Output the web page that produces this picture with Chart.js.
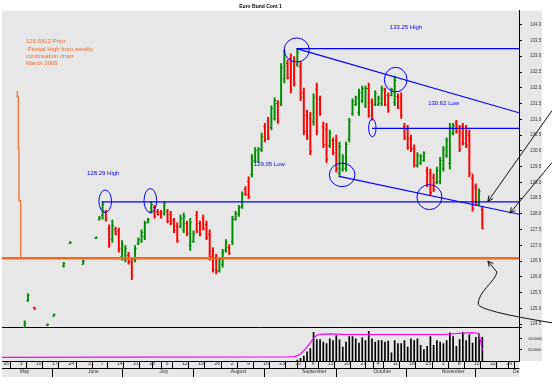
<!DOCTYPE html>
<html>
<head>
<meta charset="utf-8">
<script src="https://cdn.jsdelivr.net/npm/chart.js@4.4.1/dist/chart.umd.min.js"></script>
<style>
  html, body { margin: 0; padding: 0; background: #fff; }
  #wrap { width: 552px; height: 387px; }
</style>
</head>
<body>
<div id="wrap"><canvas id="chart" width="552" height="387"></canvas></div>
<script>
const FONT = "'Liberation Sans', Arial, sans-serif";
const GREEN = '#008c00';
const RED = '#ff0000';
const BLUE = '#0000ff';
const ORANGE = '#f26b21';
const GREY_BG = '#e7e7e7';

// trading day index, 0 = Monday 26 April 2010
const barDays = [7, 8, 10, 14, 16, 19, 21, 25, 29,
  30, 31, 32, 33, 34, 35, 36, 37, 38, 39, 40, 41, 42, 43, 44, 45, 46, 47, 48, 49,
  50, 51, 52, 53, 54, 55, 56, 57, 58, 59, 60, 61, 62, 63, 64, 65, 66, 67, 68, 69,
  70, 71, 72, 73, 74, 75, 76, 77, 78, 79, 80, 81, 82, 83, 84, 85, 86, 87, 88, 89,
  90, 91, 92, 93, 94, 95, 96, 97, 98, 99, 100, 101, 102, 103, 104, 105, 106, 107, 108, 109,
  110, 111, 112, 113, 114, 115, 116, 117, 118, 119, 120, 121, 122, 123, 124, 125, 126, 127, 128, 129,
  130, 131, 132, 133, 134, 135, 136, 137, 138, 139, 140, 141, 142, 143, 144, 145, 146, 147, 148];

const opens = [124.42, 125.25, 125.03, 124.46, 124.77, 126.33, 127.06, 126.42, 127.22,
  127.83, 127.95, 128.05, 127.55, 127.20, 127.52, 127.45, 126.65, 126.58, 126.70, 126.50, 126.55, 127.06, 127.15, 127.30, 127.74, 128.08, 128.20, 128.10, 128.06,
  128.02, 128.08, 128.00, 127.80, 127.62, 127.62, 127.50, 127.70, 127.00, 127.15, 127.95, 127.70, 127.88, 127.68, 127.35, 126.82, 126.62, 126.22, 126.40, 126.84,
  126.96, 127.15, 127.84, 127.98, 128.25, 128.80, 129.05, 129.25, 129.70, 129.68, 130.05, 130.78, 130.95, 130.76, 131.05, 131.52, 131.55, 132.30, 132.80, 132.95,
  132.85, 132.75, 132.70, 131.85, 131.15, 131.05, 130.95, 131.95, 131.65, 130.80, 130.70, 130.18, 130.35, 130.35, 129.30, 129.42, 129.45, 130.38, 131.20, 131.48,
  131.22, 131.60, 131.45, 132.00, 131.55, 131.50, 131.48, 131.52, 131.92, 131.76, 131.78, 131.55, 131.74, 131.72, 130.80, 130.70, 130.42, 130.10, 129.55, 129.62,
  129.70, 129.40, 129.30, 129.18, 129.02, 129.05, 129.45, 129.86, 129.60, 130.55, 130.90, 130.72, 130.78, 130.72, 130.50, 129.15, 128.88, 128.32, 128.15];

const highs = [124.60, 125.47, 125.04, 124.51, 124.82, 126.46, 127.12, 126.53, 127.27,
  127.92, 128.39, 128.11, 127.65, 127.80, 127.58, 127.55, 127.15, 126.99, 126.78, 126.62, 126.99, 127.24, 127.49, 127.77, 127.86, 128.39, 128.27, 128.14, 128.11,
  128.39, 128.14, 128.08, 127.86, 127.71, 127.96, 128.02, 127.77, 127.86, 127.46, 128.08, 127.77, 127.96, 127.77, 127.49, 126.93, 126.71, 126.62, 126.87, 127.18,
  127.02, 127.92, 128.08, 128.27, 128.70, 128.86, 129.17, 129.88, 130.10, 130.10, 130.56, 130.87, 131.06, 131.43, 131.68, 131.59, 132.77, 133.20, 132.89, 133.08,
  132.99, 133.25, 132.83, 131.99, 131.28, 131.22, 131.81, 132.15, 131.74, 130.91, 130.87, 130.66, 130.41, 130.50, 130.28, 129.88, 130.28, 131.03, 131.65, 131.74,
  131.96, 132.05, 132.05, 132.15, 131.65, 131.90, 131.74, 132.05, 131.99, 131.84, 131.99, 132.37, 131.81, 131.84, 130.87, 130.81, 130.50, 130.19, 129.94, 129.88,
  129.97, 129.48, 129.42, 129.26, 129.48, 129.79, 130.13, 130.41, 130.87, 130.87, 130.97, 130.81, 130.87, 130.81, 130.66, 129.26, 128.95, 128.79, 128.24];

const lows = [124.39, 125.22, 124.97, 124.45, 124.76, 126.31, 127.05, 126.40, 127.21,
  127.80, 127.83, 127.77, 126.93, 127.09, 127.33, 126.78, 126.53, 126.47, 126.40, 125.91, 126.47, 127.02, 127.09, 127.18, 127.71, 128.02, 127.86, 127.96, 127.86,
  127.96, 127.71, 127.65, 127.40, 127.09, 127.55, 127.40, 127.30, 126.84, 127.09, 127.40, 127.30, 127.49, 127.18, 126.53, 126.15, 126.09, 126.15, 126.31, 126.78,
  126.71, 127.02, 127.80, 127.92, 128.17, 128.58, 128.48, 129.17, 129.63, 129.63, 129.97, 130.28, 130.35, 130.66, 130.97, 130.87, 131.43, 132.15, 132.27, 131.84,
  132.05, 132.68, 131.59, 130.50, 130.35, 129.88, 130.81, 130.50, 131.12, 130.10, 129.63, 130.10, 129.88, 129.32, 129.17, 129.35, 129.35, 130.28, 131.12, 131.43,
  131.12, 131.53, 131.37, 131.06, 130.97, 131.43, 131.43, 131.43, 131.43, 131.22, 131.74, 131.43, 131.34, 131.03, 130.35, 130.04, 129.97, 129.48, 129.48, 129.57,
  129.66, 128.86, 128.58, 128.70, 128.95, 128.95, 129.35, 129.79, 129.42, 130.50, 130.56, 129.97, 130.19, 130.10, 129.17, 128.08, 128.27, 128.27, 127.52];

const closes = [124.55, 125.42, 124.98, 124.50, 124.81, 126.44, 127.11, 126.51, 127.26,
  127.90, 128.30, 127.82, 127.05, 127.65, 127.38, 126.90, 127.05, 126.90, 126.48, 126.05, 126.90, 127.20, 127.42, 127.70, 127.83, 128.30, 127.92, 127.99, 127.90,
  128.33, 127.78, 127.72, 127.47, 127.18, 127.88, 127.92, 127.38, 127.75, 127.40, 127.50, 127.38, 127.55, 127.25, 126.65, 126.25, 126.18, 126.55, 126.80, 127.12,
  126.76, 127.82, 128.02, 128.20, 128.62, 128.62, 128.58, 129.80, 130.02, 130.05, 130.48, 130.36, 130.42, 131.35, 131.60, 130.95, 132.65, 133.05, 132.35, 131.95,
  132.15, 133.15, 131.70, 130.62, 130.45, 130.00, 131.70, 130.62, 131.20, 130.20, 129.75, 130.58, 129.95, 129.45, 130.15, 129.80, 130.20, 130.95, 131.58, 131.70,
  131.88, 131.98, 131.98, 131.15, 131.05, 131.84, 131.68, 131.98, 131.50, 131.30, 131.95, 132.25, 131.40, 131.12, 130.42, 130.12, 130.05, 129.56, 129.88, 129.82,
  129.92, 128.95, 128.68, 128.78, 129.40, 129.70, 130.05, 130.34, 130.75, 130.82, 130.62, 130.06, 130.26, 130.18, 129.30, 128.18, 128.33, 128.72, 127.55];

const volDays = [91, 92, 93, 94, 95, 96, 97, 98, 99, 100, 101, 102, 103, 104, 105, 106, 107, 108, 109,
  110, 111, 112, 113, 114, 115, 116, 117, 118, 119, 120, 121, 122, 123, 124, 125, 126, 127, 128, 129,
  130, 131, 132, 133, 134, 135, 136, 137, 138, 139, 140, 141, 142, 143, 144, 145, 146, 147, 148];
const volumes = [40000, 120000, 220000, 410000, 560000, 1290000, 970000, 970000, 850000, 780000, 1000000, 925000, 1150000, 955000, 630000, 850000, 1100000, 1100000, 1000000,
  805000, 1045000, 925000, 1335000, 1000000, 850000, 925000, 925000, 850000, 895000, 365000, 925000, 780000, 780000, 925000, 630000, 1000000, 925000, 1000000, 705000,
  515000, 660000, 1100000, 705000, 925000, 850000, 780000, 925000, 1265000, 1100000, 660000, 970000, 1290000, 925000, 1190000, 805000, 1070000, 1220000, 1070000];

const oiDays = [0, 88, 90, 91, 92, 93, 94, 95, 96, 97, 98, 101, 105, 135, 138, 141, 145, 147, 148];
const openInterest = [165000, 190000, 200000, 240000, 330000, 470000, 640000, 830000, 1030000, 1160000, 1200000, 1220000, 1200000, 1195000, 1210000, 1250000, 1280000, 1240000, 480000];

const priceTickValues = [124.5, 125, 125.5, 126, 126.5, 127, 127.5, 128, 128.5, 129, 129.5, 130, 130.5, 131, 131.5, 132, 132.5, 133, 133.5, 134];
const volumeTickValues = [500000, 1000000, 1500000];

const weekTicks = [0, 5, 10, 15, 20, 26, 30, 35, 40, 45, 50, 55, 60, 65, 70, 75, 80, 85, 90, 95, 100, 105, 110, 115, 120, 125, 130, 135, 140, 145, 150, 155];
const weekLabels = ['26', '3', '10', '17', '24', '31', '7', '14', '21', '28', '5', '12', '19', '26', '2', '9', '16', '23', '30', '6', '13', '20', '27', '4', '11', '18', '25', '1', '8', '15', '22', '29'];
const monthTicks = [5, 26, 48, 70, 92, 114, 135, 157];
const monthLabels = ['May', 'June', 'July', 'August', 'September', 'October', 'November', 'December'];

// hand drawn study lines: [day, price] pairs
const orangeLevel = 126.5912;
const priorContract = [[4.71, 131.90], [4.71, 131.71], [5.02, 131.71], [5.02, 130.04], [5.24, 130.04], [5.24, 128.42], [5.76, 128.42], [5.76, 126.59]];
const blueLines = [
  [[90.8, 133.244], [159.3, 133.244]],
  [[90.8, 133.244], [159.3, 131.207]],
  [[114.0, 130.71], [159.3, 130.71]],
  [[30.8, 128.38], [159.3, 128.38]],
  [[103.9, 129.188], [159.3, 127.986]]
];

const circles = [
  { d: 90.8, p: 133.20, rx: 12.5, ry: 12 },
  { d: 121.3, p: 132.26, rx: 11.3, ry: 12.3 },
  { d: 114.1, p: 130.725, rx: 3.7, ry: 8.8 },
  { d: 104.8, p: 129.235, rx: 12.8, ry: 11.8 },
  { d: 131.7, p: 128.53, rx: 12.5, ry: 12.5 },
  { d: 31.8, p: 128.40, rx: 6.3, ry: 11.2 },
  { d: 45.7, p: 128.42, rx: 6.3, ry: 12 }
];

const arrows = [
  { from: [169.5, 131.28], to: [149.7, 128.39] },
  { from: [169.5, 129.63], to: [156.5, 128.02] }
];
const curvedArrow = [[169.5, 124.54], [147.3, 124.91], [146.7, 125.13], [146.7, 125.53], [151.9, 125.84], [152.5, 126.15], [149.7, 126.50]];

const notes = [
  { text: '133.25 High', d: 119.5, p: 133.92, color: BLUE },
  { text: '130.62 Low', d: 131.3, p: 131.51, color: BLUE },
  { text: '129.05 Low', d: 77.6, p: 129.57, color: BLUE },
  { text: '128.29 High', d: 26.2, p: 129.29, color: BLUE },
  { text: '126.5912 Prior', d: 7.4, p: 133.47, color: ORANGE },
  { text: ' Pivotal High from weekly', d: 7.4, p: 133.23, color: ORANGE },
  { text: 'continuation chart', d: 7.4, p: 132.99, color: ORANGE },
  { text: 'March 2009', d: 7.4, p: 132.78, color: ORANGE }
];

const toXY = (pairs) => pairs.map(([x, y]) => ({ x, y }));

function arrowHead(ctx, x0, y0, x1, y1, size) {
  const a = Math.atan2(y1 - y0, x1 - x0);
  ctx.beginPath();
  ctx.moveTo(x1 - size * Math.cos(a - 0.45), y1 - size * Math.sin(a - 0.45));
  ctx.lineTo(x1, y1);
  ctx.lineTo(x1 - size * Math.cos(a + 0.45), y1 - size * Math.sin(a + 0.45));
  ctx.stroke();
}

const annotationPlugin = {
  id: 'annotations',
  beforeDraw(chart) {
    const { ctx, chartArea: a, scales } = chart;
    ctx.save();
    ctx.fillStyle = GREY_BG;
    ctx.fillRect(a.left, a.top, scales.y.right - a.left, a.bottom - a.top);
    ctx.fillRect(a.left, a.bottom, a.right - a.left, scales.x2.bottom - a.bottom);
    ctx.restore();
  },
  afterDatasetsDraw(chart) {
    const { ctx, scales } = chart;
    const X = (d) => scales.x.getPixelForValue(d);
    const Y = (p) => scales.y.getPixelForValue(p);
    ctx.save();

    // open / close ticks
    ctx.lineWidth = 1;
    barDays.forEach((d, i) => {
      const x = X(d);
      ctx.strokeStyle = closes[i] >= opens[i] ? GREEN : RED;
      ctx.beginPath();
      const yo = Math.round(Y(opens[i])) + 0.5;
      const yc = Math.round(Y(closes[i])) + 0.5;
      ctx.moveTo(x - 1.6, yo); ctx.lineTo(x, yo);
      ctx.moveTo(x, yc); ctx.lineTo(x + 1.6, yc);
      ctx.stroke();
    });

    // circles around pivots
    ctx.strokeStyle = BLUE;
    ctx.lineWidth = 1;
    circles.forEach(c => {
      ctx.beginPath();
      ctx.ellipse(X(c.d), Y(c.p), c.rx, c.ry, 0, 0, Math.PI * 2);
      ctx.stroke();
    });

    // black pointer arrows
    ctx.strokeStyle = '#111';
    ctx.lineWidth = 1;
    arrows.forEach(a => {
      const x0 = X(a.from[0]), y0 = Y(a.from[1]), x1 = X(a.to[0]), y1 = Y(a.to[1]);
      ctx.beginPath(); ctx.moveTo(x0, y0); ctx.lineTo(x1, y1); ctx.stroke();
      arrowHead(ctx, x0, y0, x1, y1, 6);
    });
    const cp = curvedArrow.map(([d, p]) => [X(d), Y(p)]);
    ctx.beginPath();
    ctx.moveTo(cp[0][0], cp[0][1]);
    ctx.quadraticCurveTo(cp[1][0], cp[1][1], cp[2][0], cp[2][1]);
    ctx.bezierCurveTo(cp[3][0], cp[3][1], cp[4][0], cp[4][1], cp[5][0], cp[5][1]);
    ctx.lineTo(cp[6][0], cp[6][1]);
    ctx.stroke();
    arrowHead(ctx, cp[5][0], cp[5][1], cp[6][0], cp[6][1], 6);

    // text notes
    ctx.font = '6px ' + FONT;
    ctx.textBaseline = 'middle';
    ctx.textAlign = 'left';
    notes.forEach(n => {
      ctx.fillStyle = n.color;
      ctx.fillText(n.text, X(n.d), Y(n.p));
    });

    ctx.font = 'bold 5px ' + FONT;
    ctx.fillStyle = '#000';
    ctx.textAlign = 'center';
    ctx.fillText('Euro Bund Cont 1', (chart.chartArea.left + chart.chartArea.right) / 2, 6.5);
    ctx.restore();
  },
  afterDraw(chart) {
    // the month row is cut off at the right end of the time axis
    const { ctx, chartArea: a, scales } = chart;
    ctx.save();
    ctx.fillStyle = '#fff';
    ctx.fillRect(a.right + 0.5, a.bottom + 0.5, chart.width - a.right, scales.x2.bottom - a.bottom + 2);
    ctx.restore();
  }
};

Chart.defaults.font.family = FONT;

new Chart(document.getElementById('chart'), {
  type: 'bar',
  data: {
    datasets: [
      {
        type: 'line', label: 'level', order: 0, yAxisID: 'y',
        data: [{ x: 0, y: orangeLevel }, { x: 159.3, y: orangeLevel }],
        borderColor: ORANGE, borderWidth: 2.5, pointRadius: 0
      },
      {
        type: 'line', label: 'prior', order: 0, yAxisID: 'y',
        data: toXY(priorContract),
        borderColor: ORANGE, borderWidth: 1.2, pointRadius: 0
      },
      ...blueLines.map((seg, i) => ({
        type: 'line', label: 'trend' + i, order: 0, yAxisID: 'y',
        data: toXY(seg), borderColor: BLUE, borderWidth: 1.2, pointRadius: 0
      })),
      {
        type: 'bar', label: 'price', order: 2, yAxisID: 'y',
        data: barDays.map((d, i) => ({ x: d, y: [lows[i], highs[i]] })),
        backgroundColor: barDays.map((d, i) => closes[i] >= opens[i] ? GREEN : RED),
        barThickness: 1.3, grouped: false
      },
      {
        type: 'bar', label: 'volume', order: 2, yAxisID: 'v',
        data: volDays.map((d, i) => ({ x: d, y: volumes[i] })),
        backgroundColor: '#000', barThickness: 1, grouped: false
      },
      {
        type: 'line', label: 'open interest', order: 1, yAxisID: 'v',
        data: oiDays.map((d, i) => ({ x: d, y: openInterest[i] })),
        borderColor: '#ff00ff', borderWidth: 1.2, pointRadius: 0
      }
    ]
  },
  options: {
    responsive: false,
    animation: false,
    events: [],
    layout: { padding: { top: 3, left: 2, right: 10, bottom: 10 } },
    plugins: { legend: { display: false }, tooltip: { enabled: false } },
    scales: {
      x: {
        type: 'linear', position: 'bottom', min: 0, max: 159.3, offset: false,
        afterBuildTicks: axis => {
          const vals = Array.from(new Set(weekTicks.concat(monthTicks))).sort((a, b) => a - b);
          axis.ticks = vals.map(v => ({ value: v }));
        },
        afterFit: axis => { axis.height = 7; },
        grid: { drawOnChartArea: false, tickLength: 7, color: '#000', lineWidth: 1 },
        border: { color: '#000', width: 1 },
        ticks: {
          autoSkip: false, maxRotation: 0, align: 'start', padding: -7, labelOffset: 1.5,
          font: { size: 5 }, color: '#333',
          callback: v => { const i = weekTicks.indexOf(v); return i >= 0 ? weekLabels[i] : ''; }
        }
      },
      x2: {
        type: 'linear', position: 'bottom', min: 0, max: 159.3, offset: false,
        afterBuildTicks: axis => { axis.ticks = monthTicks.map(v => ({ value: v })); },
        afterFit: axis => { axis.height = 9; },
        grid: { drawOnChartArea: false, tickLength: 9, color: '#000', lineWidth: 1 },
        border: { color: '#000', width: 1 },
        ticks: {
          autoSkip: false, maxRotation: 0, align: 'start', padding: -8, labelOffset: 1.5,
          font: { size: 5 }, color: '#333',
          callback: v => monthLabels[monthTicks.indexOf(v)]
        }
      },
      y: {
        type: 'linear', position: 'right', stack: 'panels', stackWeight: 324,
        min: 124.384, max: 134.446,
        afterBuildTicks: axis => { axis.ticks = priceTickValues.map(v => ({ value: v })); },
        afterFit: axis => { axis.width = 23; },
        grid: { drawOnChartArea: false, tickLength: 3, color: '#000' },
        border: { color: '#000', width: 1 },
        ticks: { padding: 8, font: { size: 4.5 }, color: '#333', callback: v => v.toFixed(1) }
      },
      v: {
        type: 'linear', position: 'right', stack: 'panels', stackWeight: 34,
        min: 0, max: 1500000,
        afterBuildTicks: axis => { axis.ticks = volumeTickValues.map(v => ({ value: v })); },
        afterFit: axis => { axis.width = 23; },
        grid: {
          drawOnChartArea: true, tickLength: 3,
          color: c => (c.tick && c.tick.value === 1500000) ? '#000' : 'rgba(0,0,0,0)',
          tickColor: '#000'
        },
        border: { color: '#000', width: 1 },
        ticks: { padding: 6, font: { size: 4 }, color: '#333', callback: v => v === 1500000 ? '' : String(v) }
      }
    }
  },
  plugins: [annotationPlugin]
});
</script>
</body>
</html>
